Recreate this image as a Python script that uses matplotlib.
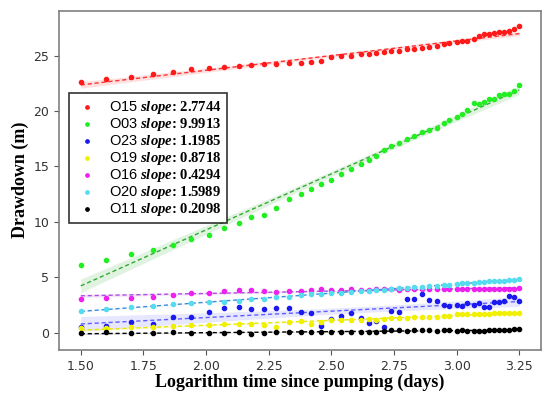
import numpy as np
import matplotlib
matplotlib.use("Agg")
import matplotlib.pyplot as plt

plt.rcParams["mathtext.fontset"] = "custom"
plt.rcParams["mathtext.sf"] = "Liberation Sans"
plt.rcParams["mathtext.rm"] = "Liberation Serif"
plt.rcParams["mathtext.it"] = "Liberation Serif:italic:bold"
plt.rcParams["mathtext.bf"] = "Liberation Serif:bold"

# log time (days)
log_t = [1.50, 1.60, 1.70, 1.79, 1.87, 1.94, 2.01, 2.07, 2.13, 2.18,
         2.23, 2.28, 2.33, 2.38, 2.42, 2.46, 2.50, 2.54, 2.58, 2.62,
         2.65, 2.68, 2.71, 2.74, 2.77, 2.80, 2.83, 2.86, 2.89, 2.92,
         2.95, 2.97, 3.00, 3.02, 3.04, 3.07, 3.09, 3.11, 3.13, 3.15,
         3.17, 3.19, 3.21, 3.23, 3.25]

# drawdown (m) per well
o15 = [22.65, 22.9, 23.1, 23.3, 23.55, 23.8, 23.9, 24.0, 24.1, 24.15,
       24.2, 24.25, 24.35, 24.35, 24.45, 24.5, 24.85, 24.95, 25.0, 25.1,
       25.15, 25.2, 25.3, 25.4, 25.45, 25.55, 25.6, 25.7, 25.8, 25.9,
       26.05, 26.1, 26.2, 26.3, 26.35, 26.45, 26.75, 26.9, 26.95, 27.0,
       27.1, 27.15, 27.25, 27.35, 27.65]
o03 = [6.1, 6.6, 7.1, 7.5, 7.9, 8.45, 8.85, 9.4, 9.9, 10.45,
       10.65, 11.25, 12.1, 12.55, 13.0, 13.4, 13.8, 14.3, 14.8, 15.2,
       15.6, 15.95, 16.5, 16.8, 17.1, 17.45, 17.7, 18.1, 18.3, 18.5,
       18.95, 19.2, 19.5, 19.7, 20.1, 20.7, 20.6, 20.8, 21.1, 21.1,
       21.4, 21.5, 21.5, 21.8, 22.3]
o23 = [0.5, 0.6, 1.0, 0.8, 1.45, 1.45, 1.85, 2.27, 2.36, 2.12,
       2.12, 2.24, 2.27, 1.9, 1.81, 0.63, 1.24, 1.54, 1.75, 1.3,
       0.9, 1.06, 0.54, 1.99, 1.85, 3.02, 3.05, 3.5, 2.96, 2.9,
       2.5, 2.42, 2.5, 2.42, 2.66, 2.5, 2.66, 2.36, 2.36, 2.8,
       2.8, 2.87, 3.32, 3.26, 2.85]
o19 = [0.4, 0.4, 0.49, 0.55, 0.6, 0.7, 0.7, 0.79, 0.79, 0.79,
       0.7, 0.55, 1.0, 1.06, 0.76, 1.0, 1.15, 1.15, 1.15, 1.15,
       1.24, 1.1, 1.2, 1.3, 1.36, 1.36, 1.38, 1.45, 1.45, 1.45,
       1.51, 1.51, 1.66, 1.66, 1.66, 1.68, 1.68, 1.68, 1.7, 1.75,
       1.75, 1.75, 1.77, 1.78, 1.78]
o16 = [3.02, 3.1, 3.17, 3.2, 3.4, 3.57, 3.62, 3.8, 3.87, 3.87,
       3.78, 3.69, 3.72, 3.8, 3.85, 3.9, 3.82, 3.88, 3.9, 3.85,
       3.88, 3.9, 3.92, 3.9, 3.88, 3.9, 3.92, 3.9, 3.9, 3.92,
       3.93, 3.9, 3.92, 3.93, 3.95, 3.93, 3.95, 3.95, 3.93, 3.95,
       3.96, 3.95, 3.97, 3.97, 4.0]
o20 = [1.97, 2.12, 2.3, 2.42, 2.57, 2.66, 2.75, 2.81, 2.9, 3.02,
       3.05, 3.2, 3.26, 3.41, 3.48, 3.52, 3.58, 3.62, 3.7, 3.74,
       3.78, 3.82, 3.87, 3.95, 4.0, 4.05, 4.08, 4.12, 4.17, 4.22,
       4.28, 4.33, 4.4, 4.45, 4.48, 4.52, 4.55, 4.58, 4.62, 4.65,
       4.68, 4.7, 4.74, 4.78, 4.86]
o11 = [0.0, 0.03, -0.02, -0.05, 0.02, 0.0, -0.05, 0.0, 0.03, -0.15,
       -0.05, 0.02, 0.05, 0.05, 0.08, 0.05, 0.1, 0.08, 0.1, 0.05,
       0.08, 0.1, 0.15, 0.2, 0.2, 0.18, 0.2, 0.2, 0.2, 0.18,
       0.2, 0.2, 0.18, 0.2, 0.15, 0.15, 0.18, 0.15, 0.2, 0.22,
       0.22, 0.25, 0.28, 0.32, 0.35]

wells = ["O15", "O03", "O23", "O19", "O16", "O20", "O11"]
slopes = ["2.7744", "9.9913", "1.1985", "0.8718", "0.4294", "1.5989", "0.2098"]
series = [o15, o03, o23, o19, o16, o20, o11]
point_colors = ["#ff1a1a", "#22ee22", "#1a1aee", "#f0f000", "#ee22ee", "#55ddee", "black"]
line_colors = ["#ff3333", "#33aa33", "#6060ff", "#e8e800", "#b050e0", "#3d8fe0", "black"]

fig = plt.figure(figsize=(5.5, 3.98), dpi=100)
ax = fig.add_axes([0.107, 0.121, 0.877, 0.852])

x = np.array(log_t)
handles = []
for name, sl, y, pc, lc in zip(wells, slopes, series, point_colors, line_colors):
    y = np.array(y)
    b, a = np.polyfit(x, y, 1)
    yfit = a + b * x
    n = len(x)
    s = np.sqrt(np.sum((y - yfit) ** 2) / (n - 2))
    se = s * np.sqrt(1 / n + (x - x.mean()) ** 2 / np.sum((x - x.mean()) ** 2))
    ax.fill_between(x, yfit - 3 * se, yfit + 3 * se, color=lc, alpha=0.15, lw=0)
    ax.plot(x, yfit, ls=(0, (3, 2)), color=lc, lw=1.0)
    label = r"$\mathsf{%s}$ $\mathit{slope}$: %s" % (name, sl)
    h = ax.scatter(x, y, s=9, color=pc, zorder=3, label=label)
    handles.append(h)

leg = ax.legend(handles=handles, loc="upper left", bbox_to_anchor=(0.022, 0.758),
                prop={"family": "Liberation Serif", "weight": "bold", "size": 10.5},
                frameon=True, fancybox=False, edgecolor="black",
                labelspacing=0.0, handletextpad=0.7, borderpad=0.4,
                handlelength=1.6, markerscale=0.8, borderaxespad=0)
leg.get_frame().set_linewidth(1.2)

ax.set_xticks([1.50, 1.75, 2.00, 2.25, 2.50, 2.75, 3.00, 3.25])
ax.set_yticks([0, 5, 10, 15, 20, 25])
ax.tick_params(labelsize=9, colors="#555555", labelcolor="#333333")
for sp in ax.spines.values():
    sp.set_color("#808080")
    sp.set_linewidth(1.2)

ax.set_xlabel("Logarithm time since pumping (days)", fontfamily="Liberation Serif",
              fontweight="bold", fontsize=13, labelpad=1)
ax.set_ylabel("Drawdown (m)", fontfamily="Liberation Serif",
              fontweight="bold", fontsize=13, labelpad=3)

fig.savefig("out.png", dpi=100)
